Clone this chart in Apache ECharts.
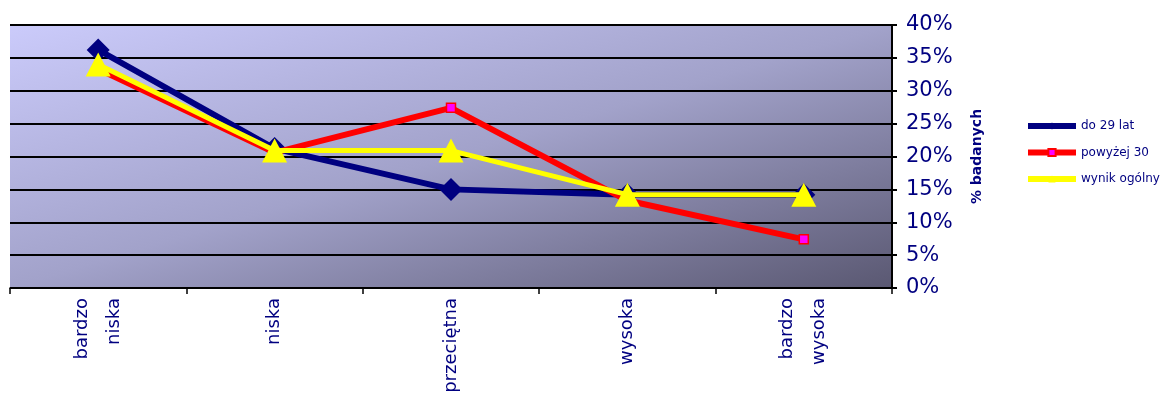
<!DOCTYPE html>
<html>
<head>
<meta charset="utf-8">
<script src="https://cdn.jsdelivr.net/npm/echarts@6/dist/echarts.min.js"></script>
<style>
  html, body { margin: 0; padding: 0; background: #ffffff; }
  #chart { width: 1166px; height: 402px; }
</style>
</head>
<body>
<div id="chart"></div>
<script>
// Categories (level of the measured trait)
const categories = ['bardzo\nniska', 'niska', 'przeciętna', 'wysoka', 'bardzo\nwysoka'];

// Share of respondents per group (fraction of 1)
const seriesNames = ['do 29 lat', 'powyżej 30', 'wynik ogólny'];
const youngValues = [0.362, 0.212, 0.150, 0.142, 0.142];
const olderValues = [0.333, 0.206, 0.274, 0.133, 0.074];
const totalValues = [0.340, 0.209, 0.209, 0.142, 0.142];

// Value axis ticks
const yMin = 0;
const yMax = 0.40;
const yStep = 0.05;

const navy = '#000080';
const W = 1166, H = 402;
const plot = { left: 10, right: 274, top: 25, bottom: 114 };
const pw = W - plot.left - plot.right;
const ph = H - plot.top - plot.bottom;

// Diagonal shading: light in the top-left corner, dark in the bottom-right,
// with the two other corners sharing the same middle tone.
const diag = Math.sqrt(pw * pw + ph * ph);
const reach = (2 * pw * ph) / diag;
const gx1 = plot.left + (ph / diag) * reach;
const gy1 = plot.top + (pw / diag) * reach;
const plotFill = new echarts.graphic.LinearGradient(plot.left, plot.top, gx1, gy1, [
  { offset: 0, color: '#cbcbfb' },
  { offset: 0.5, color: '#a2a2ca' },
  { offset: 1, color: '#5a5872' }
], true);

const chart = echarts.init(document.getElementById('chart'));

chart.setOption({
  animation: false,
  backgroundColor: '#ffffff',
  grid: {
    left: plot.left,
    right: plot.right,
    top: plot.top,
    bottom: plot.bottom,
    show: true,
    borderWidth: 0,
    backgroundColor: plotFill
  },
  legend: {
    orient: 'vertical',
    left: 1025,
    top: 120,
    padding: 0,
    itemWidth: 48,
    itemHeight: 9,
    itemGap: 14.5,
    lineStyle: { width: 6 },
    textStyle: { fontFamily: 'DejaVu Sans', fontSize: 12, color: navy },
    data: seriesNames
  },
  xAxis: {
    type: 'category',
    data: categories,
    boundaryGap: true,
    axisLine: { show: true, lineStyle: { color: '#000000', width: 1.5 } },
    axisTick: { show: true, length: 6, lineStyle: { color: '#000000', width: 1.5 } },
    axisLabel: {
      rotate: 90,
      margin: 10,
      interval: 0,
      fontFamily: 'DejaVu Sans',
      fontSize: 18,
      lineHeight: 32,
      color: navy
    }
  },
  yAxis: {
    type: 'value',
    position: 'right',
    min: yMin,
    max: yMax,
    interval: yStep,
    name: '% badanych',
    nameLocation: 'middle',
    nameRotate: 90,
    nameGap: 78,
    nameTextStyle: { fontFamily: 'DejaVu Sans', fontWeight: 'bold', fontSize: 14, color: navy },
    axisLine: { show: true, lineStyle: { color: '#000000', width: 2 } },
    axisTick: { show: true, inside: false, length: 5, lineStyle: { color: '#000000', width: 2 } },
    axisLabel: {
      margin: 14,
      fontFamily: 'DejaVu Sans',
      fontSize: 21,
      color: navy,
      formatter: v => Math.round(v * 100) + '%'
    },
    splitLine: { show: true, lineStyle: { color: '#000000', width: 2 } }
  },
  series: [
    {
      name: seriesNames[0],
      type: 'line',
      data: youngValues,
      symbol: 'diamond',
      symbolSize: 23,
      lineStyle: { color: navy, width: 6 },
      itemStyle: { color: navy },
      z: 2
    },
    {
      name: seriesNames[1],
      type: 'line',
      data: olderValues,
      symbol: 'rect',
      symbolSize: 9,
      lineStyle: { color: '#ff0000', width: 6 },
      itemStyle: { color: '#ff00ff', borderColor: '#ff0000', borderWidth: 1.5 },
      z: 3
    },
    {
      name: seriesNames[2],
      type: 'line',
      data: totalValues,
      symbol: 'triangle',
      symbolSize: [25, 24],
      lineStyle: { color: '#ffff00', width: 5 },
      itemStyle: { color: '#ffff00' },
      z: 4
    }
  ]
});
</script>
</body>
</html>
